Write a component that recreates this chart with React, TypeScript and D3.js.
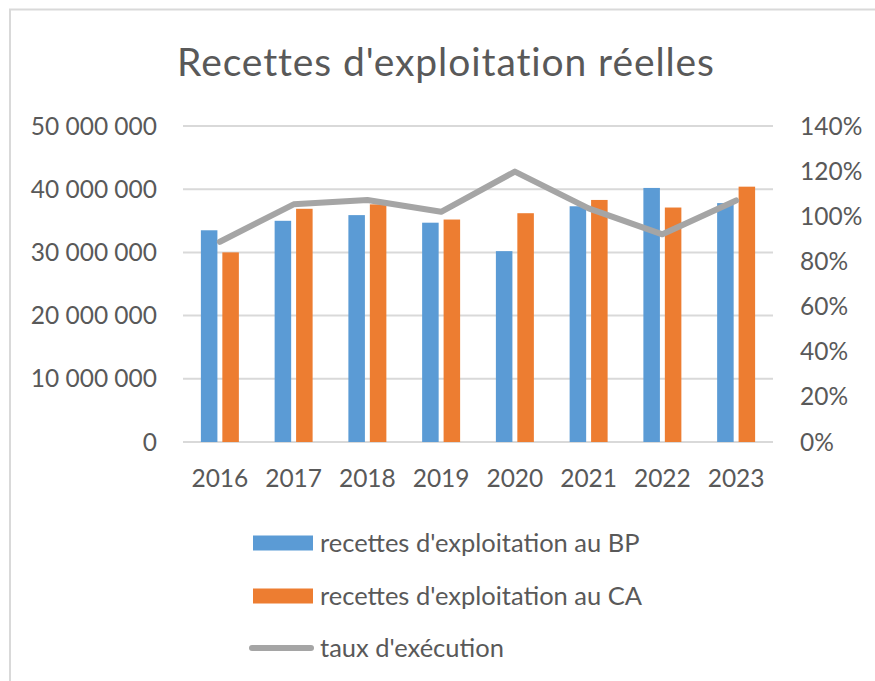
import React, { useEffect, useRef } from 'react'
import * as d3 from 'd3'

const years = ['2016', '2017', '2018', '2019', '2020', '2021', '2022', '2023']
// recettes d'exploitation au BP (euros)
const bpValues = [33500000, 35000000, 35900000, 34700000, 30200000, 37300000, 40200000, 37800000]
// recettes d'exploitation au CA (euros)
const caValues = [30000000, 36900000, 37600000, 35200000, 36200000, 38300000, 37100000, 40400000]
// taux d'exécution
const tauxValues = [0.887, 1.053, 1.072, 1.02, 1.198, 1.035, 0.92, 1.07]
const leftTicks = [0, 10000000, 20000000, 30000000, 40000000, 50000000]
const rightTicks = [0, 0.2, 0.4, 0.6, 0.8, 1.0, 1.2, 1.4]
const seriesNames = [
  "recettes d'exploitation au BP",
  "recettes d'exploitation au CA",
  "taux d'exécution",
]

const W = 875
const H = 681
const FONT = 'Lato, "Open Sans", sans-serif'
const TEXT = '#595959'

function fmtSpace(v: number) {
  return d3.format(',')(v).replace(/,/g, ' ')
}

export default function App() {
  const ref = useRef<SVGSVGElement>(null)

  useEffect(() => {
    const svg = d3.select(ref.current)
    svg.selectAll('*').remove()

    const plot = { left: 183, right: 773, top: 126, bottom: 442 }

    // outer frame
    svg
      .append('rect')
      .attr('x', 10)
      .attr('y', 9.5)
      .attr('width', W + 20)
      .attr('height', H + 20)
      .attr('fill', '#fff')
      .attr('stroke', '#d9d9d9')
      .attr('stroke-width', 2)

    svg
      .append('text')
      .attr('x', 446)
      .attr('y', 76)
      .attr('text-anchor', 'middle')
      .attr('font-family', FONT)
      .attr('font-size', 39)
      .attr('letter-spacing', 0.9)
      .attr('fill', TEXT)
      .text("Recettes d'exploitation réelles")

    const x = d3
      .scaleBand<string>()
      .domain(years)
      .range([plot.left, plot.right])
      .paddingInner(0.485)
      .paddingOuter(0.2425)
    const x1 = d3
      .scaleBand<string>()
      .domain(['bp', 'ca'])
      .range([0, x.bandwidth()])
      .paddingInner(0.23)
    const y = d3.scaleLinear().domain([0, 50000000]).range([plot.bottom, plot.top])
    const y2 = d3.scaleLinear().domain([0, 1.4]).range([plot.bottom, plot.top])

    // gridlines
    svg
      .append('g')
      .selectAll('line')
      .data(leftTicks)
      .enter()
      .append('line')
      .attr('x1', plot.left)
      .attr('x2', plot.right)
      .attr('y1', d => y(d))
      .attr('y2', d => y(d))
      .attr('stroke', '#d9d9d9')
      .attr('stroke-width', 2)

    // left axis labels
    svg
      .append('g')
      .selectAll('text')
      .data(leftTicks)
      .enter()
      .append('text')
      .attr('x', 157)
      .attr('y', d => y(d))
      .attr('dy', '0.35em')
      .attr('text-anchor', 'end')
      .attr('font-family', FONT)
      .attr('font-size', 24.5)
      .attr('fill', TEXT)
      .text(d => fmtSpace(d))

    // right axis labels
    svg
      .append('g')
      .selectAll('text')
      .data(rightTicks)
      .enter()
      .append('text')
      .attr('x', 800)
      .attr('y', d => y2(d))
      .attr('dy', '0.35em')
      .attr('font-family', FONT)
      .attr('font-size', 24.5)
      .attr('fill', TEXT)
      .text(d => `${Math.round(d * 100)}%`)

    // x labels
    svg
      .append('g')
      .selectAll('text')
      .data(years)
      .enter()
      .append('text')
      .attr('x', d => (x(d) as number) + x.bandwidth() / 2)
      .attr('y', 478)
      .attr('dy', '0.35em')
      .attr('text-anchor', 'middle')
      .attr('font-family', FONT)
      .attr('font-size', 24.5)
      .attr('fill', TEXT)
      .text(d => d)

    const bars = svg.append('g')
    bars
      .selectAll('rect.bp')
      .data(bpValues)
      .enter()
      .append('rect')
      .attr('x', (d, i) => (x(years[i]) as number) + (x1('bp') as number))
      .attr('width', x1.bandwidth())
      .attr('y', d => y(d))
      .attr('height', d => plot.bottom - y(d))
      .attr('fill', '#5b9bd5')
    bars
      .selectAll('rect.ca')
      .data(caValues)
      .enter()
      .append('rect')
      .attr('x', (d, i) => (x(years[i]) as number) + (x1('ca') as number))
      .attr('width', x1.bandwidth())
      .attr('y', d => y(d))
      .attr('height', d => plot.bottom - y(d))
      .attr('fill', '#ed7d31')

    const line = d3
      .line<number>()
      .x((d, i) => (x(years[i]) as number) + x.bandwidth() / 2)
      .y(d => y2(d))
    svg
      .append('path')
      .datum(tauxValues)
      .attr('d', line)
      .attr('fill', 'none')
      .attr('stroke', '#a5a5a5')
      .attr('stroke-width', 6)
      .attr('stroke-linejoin', 'round')
      .attr('stroke-linecap', 'round')

    // legend
    const legend = svg.append('g')
    const rows = [543, 596, 648]
    const colors = ['#5b9bd5', '#ed7d31', '#a5a5a5']
    seriesNames.forEach((name, i) => {
      if (i < 2) {
        legend
          .append('rect')
          .attr('x', 253)
          .attr('y', rows[i] - 7.5)
          .attr('width', 60)
          .attr('height', 15)
          .attr('fill', colors[i])
      } else {
        legend
          .append('line')
          .attr('x1', 252)
          .attr('x2', 311)
          .attr('y1', rows[i])
          .attr('y2', rows[i])
          .attr('stroke', colors[i])
          .attr('stroke-width', 6)
          .attr('stroke-linecap', 'round')
      }
      legend
        .append('text')
        .attr('x', 320)
        .attr('y', rows[i])
        .attr('dy', '0.35em')
        .attr('font-family', FONT)
        .attr('font-size', 25.5)
        .attr('fill', TEXT)
        .text(name)
    })
  }, [])

  return (
    <svg
      ref={ref}
      width={W}
      height={H}
      style={{ position: 'absolute', left: 0, top: 0, display: 'block', background: '#fff' }}
    />
  )
}
